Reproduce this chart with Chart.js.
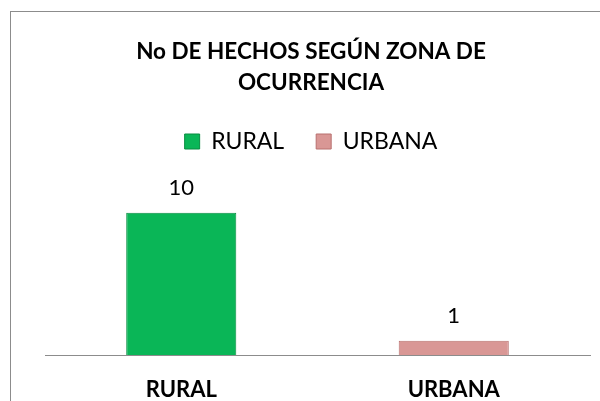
<!DOCTYPE html>
<html>
<head>
<meta charset="utf-8">
<script src="https://cdn.jsdelivr.net/npm/chart.js@4.4.0/dist/chart.umd.min.js"></script>
<style>
  html, body { margin: 0; padding: 0; background: #fff; }
  #wrap { width: 600px; height: 401px; }
</style>
</head>
<body>
<div id="wrap"><canvas id="chartZona" width="600" height="401"></canvas></div>
<script>
const zonas = ['RURAL', 'URBANA']
const hechos = [10, 1]
const colores = ['#0AB657', '#D99795']
const bordes = ['#078C40', '#B8706E']
const titulo = ['No DE HECHOS SEGÚN ZONA DE', 'OCURRENCIA']

// marco gris del grafico
const marco = {
    id: 'marco',
    beforeDraw(chart) {
        const c = chart.ctx;
        c.save();
        c.strokeStyle = '#8c8c8c';
        c.lineWidth = 1;
        c.strokeRect(10.5, 11.5, 620, 420);
        c.restore();
    }
};

// valores encima de cada barra
const etiquetas = {
    id: 'etiquetas',
    afterDatasetsDraw(chart) {
        const c = chart.ctx;
        c.save();
        c.font = '22px Lato';
        c.fillStyle = '#000';
        c.textAlign = 'center';
        c.textBaseline = 'middle';
        chart.data.datasets.forEach(function (ds, i) {
            const bar = chart.getDatasetMeta(i).data[i];
            c.fillText(hechos[i], bar.x, bar.y - 25);
        });
        c.restore();
    }
};

var ctxZona = document.getElementById('chartZona').getContext('2d');
var chartZona = new Chart(ctxZona, {
    type: 'bar',
    data: {
        labels: zonas,
        datasets: zonas.map(function (z, i) {
            const d = zonas.map(function (_, j) { return j === i ? hechos[i] : null; });
            return {
                label: z,
                data: d,
                backgroundColor: colores[i],
                borderColor: bordes[i],
                borderWidth: 1,
                barPercentage: 0.404,
                categoryPercentage: 1,
                grouped: false
            };
        })
    },
    options: {
        responsive: false,
        animation: false,
        layout: { padding: { top: 22, left: 22, right: 0, bottom: 0 } },
        plugins: {
            title: {
                display: true,
                text: titulo,
                color: '#000',
                font: { family: 'Lato', size: 22.5, weight: 'bold', lineHeight: 31 / 22.5 },
                padding: { top: 14, bottom: 0 }
            },
            legend: {
                display: true,
                labels: {
                    color: '#000',
                    font: { family: 'Lato', size: 23 },
                    boxWidth: 15,
                    boxHeight: 15,
                    padding: 32
                }
            },
            tooltip: { enabled: false }
        },
        scales: {
            x: {
                grid: { display: false, drawTicks: false, tickLength: 0 },
                border: { color: '#8c8c8c', width: 1 },
                ticks: {
                    color: '#000',
                    font: { family: 'Lato', size: 22, weight: 'bold', lineHeight: 1 },
                    padding: 24
                },
                afterFit(scale) { scale.height = 46; }
            },
            y: {
                min: 0,
                max: 13.5,
                ticks: { display: false },
                grid: { display: false, drawTicks: false },
                border: { display: false },
                afterFit(scale) { scale.width = 23; }
            },
            y2: {
                position: 'right',
                ticks: { display: false },
                grid: { display: false, drawTicks: false },
                border: { display: false },
                afterFit(scale) { scale.width = 10; }
            }
        }
    },
    plugins: [marco, etiquetas]
});
</script>
</body>
</html>
